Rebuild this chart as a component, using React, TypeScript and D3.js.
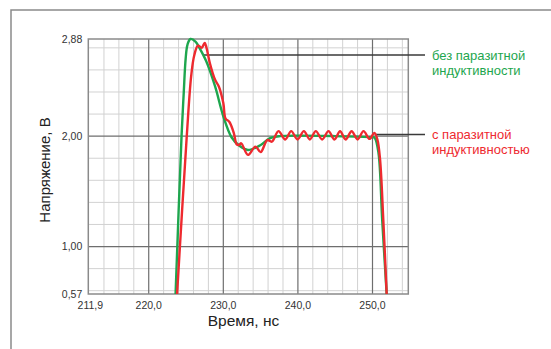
import React from "react";
import * as d3 from "d3";

// ---- data ----
const xTickValues = [211.9, 220, 230, 240, 250];
const xTickLabels = ["211,9", "220,0", "230,0", "240,0", "250,0"];
const yTickValues = [0.57, 1.0, 2.0, 2.88];
const yTickLabels = ["0,57", "1,00", "2,00", "2,88"];
const xMinorGrid = [214, 216, 218, 222, 224, 226, 228, 232, 234, 236, 238, 242, 244, 246, 248, 252, 254];
const yMinorGrid = [0.6, 0.8, 1.2, 1.4, 1.6, 1.8, 2.2, 2.4, 2.6, 2.8];
const xMajorGrid = [220, 230, 240, 250];
const yMajorGrid = [1.0, 2.0];

// без паразитной индуктивности (green)
const greenT = [223.6, 224.4, 224.7, 224.95, 225.2, 225.6, 226.3, 226.8, 227.7, 228.9, 230.0, 231.1, 232.2, 233.3, 234.9, 236.2, 237.6, 240.0, 245.0, 250.0, 250.3, 250.8, 251.3, 251.9];
const greenV = [0.57, 2.0, 2.4, 2.7, 2.83, 2.88, 2.855, 2.8, 2.68, 2.45, 2.18, 1.99, 1.91, 1.875, 1.915, 1.98, 2.0, 2.005, 2.0, 1.99, 1.985, 1.85, 1.24, 0.57];

// с паразитной индуктивностью (red)
const redT = [223.8, 225.1, 225.7, 226.1, 226.6, 227.1, 227.5, 227.75, 228.2, 228.9, 229.4, 230.0, 230.3, 230.8, 231.4, 231.8, 232.1, 232.4, 233.3, 234.3, 235.0, 235.9, 236.5, 237.4, 238.3, 239.1, 239.95, 240.8, 241.6, 242.4, 243.25, 244.1, 244.9, 245.65, 246.4, 247.2, 248.0, 248.8, 249.6, 250.25, 250.65, 251.0, 251.45, 251.9];
const redV = [0.57, 2.0, 2.55, 2.73, 2.82, 2.8, 2.845, 2.8, 2.66, 2.51, 2.45, 2.3, 2.16, 2.13, 2.03, 1.925, 1.92, 1.935, 1.83, 1.905, 1.855, 1.965, 1.95, 2.045, 1.97, 2.045, 1.97, 2.045, 1.97, 2.045, 1.97, 2.045, 1.97, 2.045, 1.97, 2.045, 1.97, 2.045, 1.975, 2.03, 1.97, 1.8, 1.24, 0.57];

// legend annotations
const legendLines = [
  { t0: 227.3, v: 2.735, lines: ["без паразитной", "индуктивности"], color: "#1ea64e" },
  { t0: 250.3, v: 2.015, lines: ["с паразитной", "индуктивностью"], color: "#ee2a2f" },
];

const W = 551;
const H = 349;
const left = 88.3, right = 408.3, top = 39, bottom = 294;

export default function App() {
  const x = d3.scaleLinear().domain([211.9, 254.8]).range([left, right]);
  const y = d3.scaleLinear().domain([0.57, 2.88]).range([bottom, top]);
  const line = d3
    .line<[number, number]>()
    .x((d) => x(d[0]))
    .y((d) => y(d[1]))
    .curve(d3.curveCatmullRom.alpha(0.5));
  const green = greenT.map((t, i) => [t, greenV[i]] as [number, number]);
  const red = redT.map((t, i) => [t, redV[i]] as [number, number]);
  const font = "Liberation Sans, Arial, sans-serif";
  const legendX = 425;

  return (
    <svg
      width={W}
      height={H}
      style={{ position: "absolute", left: 0, top: 0, background: "#fff" }}
      fontFamily={font}
    >
      <defs>
        <clipPath id="plot">
          <rect x={left} y={top - 5} width={right - left} height={bottom - top + 5} />
        </clipPath>
      </defs>
      {/* outer frame */}
      <path d={`M11,${H + 2} V10 H${W + 2}`} fill="none" stroke="#8a8a8a" strokeWidth={1.5} />

      {/* minor grid */}
      {xMinorGrid.map((t) => (
        <line key={"xm" + t} x1={x(t)} x2={x(t)} y1={top} y2={bottom} stroke="#d2d2d2" strokeWidth={1} />
      ))}
      {yMinorGrid.map((v) => (
        <line key={"ym" + v} x1={left} x2={right} y1={y(v)} y2={y(v)} stroke="#d2d2d2" strokeWidth={1} />
      ))}
      {/* major grid */}
      {xMajorGrid.map((t) => (
        <line key={"xM" + t} x1={x(t)} x2={x(t)} y1={top} y2={bottom} stroke="#6e6e6e" strokeWidth={1.2} />
      ))}
      {yMajorGrid.map((v) => (
        <line key={"yM" + v} x1={left} x2={right} y1={y(v)} y2={y(v)} stroke="#6e6e6e" strokeWidth={1.2} />
      ))}
      {/* border */}
      <rect x={left} y={top} width={right - left} height={bottom - top} fill="none" stroke="#8a8a8a" strokeWidth={1.5} />

      {/* leader lines */}
      {legendLines.map((l, i) => (
        <line key={"ll" + i} x1={x(l.t0)} x2={legendX} y1={y(l.v)} y2={y(l.v)} stroke="#3a3a3a" strokeWidth={1.4} />
      ))}

      {/* curves */}
      <g clipPath="url(#plot)">
        <path d={line(green) || ""} fill="none" stroke="#1ea64e" strokeWidth={2.4} strokeLinejoin="round" />
        <path d={line(red) || ""} fill="none" stroke="#ee2a2f" strokeWidth={2.4} strokeLinejoin="round" />
      </g>

      {/* legend texts */}
      {legendLines.map((l, i) => (
        <text key={"lt" + i} x={legendX + 7} y={y(l.v) + 4.5} fill={l.color} fontSize={13}>
          {l.lines.map((s, j) => (
            <tspan key={j} x={legendX + 7} dy={j === 0 ? 0 : 15.5}>
              {s}
            </tspan>
          ))}
        </text>
      ))}

      {/* tick labels */}
      {yTickValues.map((v, i) => (
        <text key={"yt" + v} x={left - 6} y={y(v) + 1} textAnchor="end" dominantBaseline="middle" fontSize={10.5} fill="#333">
          {yTickLabels[i]}
        </text>
      ))}
      {xTickValues.map((t, i) => (
        <text key={"xt" + t} x={x(t) + (i === 0 ? 2 : 0)} y={306} textAnchor="middle" dominantBaseline="middle" fontSize={10.5} fill="#333">
          {xTickLabels[i]}
        </text>
      ))}

      {/* axis titles */}
      <text x={243.5} y={326} textAnchor="middle" fontSize={15.5} fill="#222">
        Время, нс
      </text>
      <text transform={`translate(50,170) rotate(-90)`} textAnchor="middle" fontSize={15} fill="#222">
        Напряжение, В
      </text>
    </svg>
  );
}
